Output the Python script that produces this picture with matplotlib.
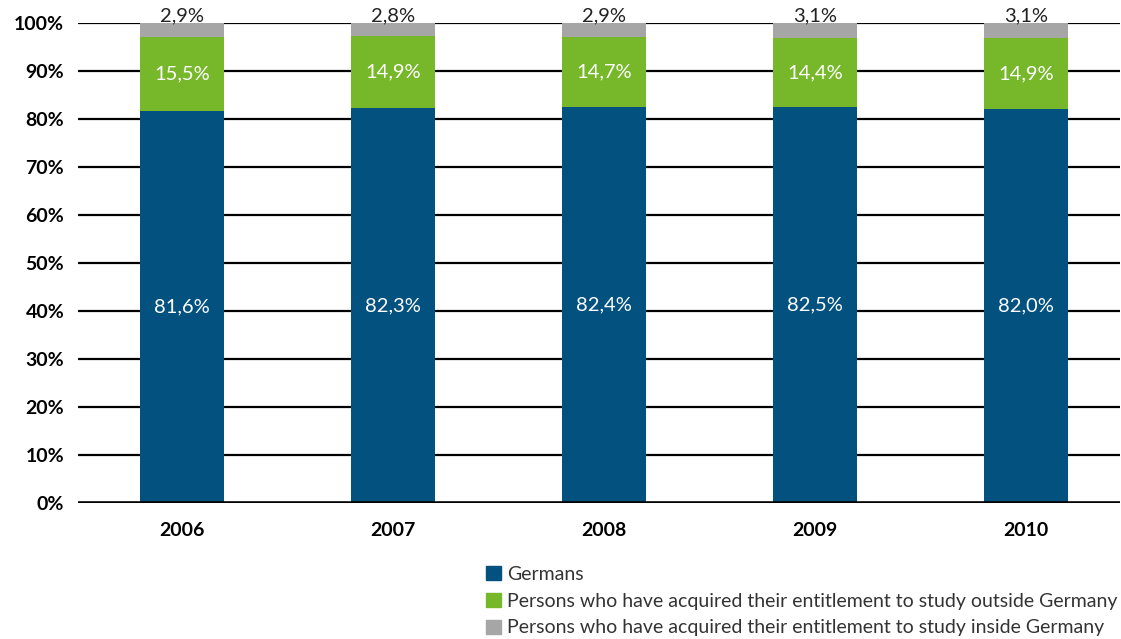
import numpy as np
import matplotlib
matplotlib.use("Agg")
import matplotlib.pyplot as plt
from matplotlib.patches import Patch

plt.rcParams["font.family"] = ["Lato", "DejaVu Sans"]

years = ["2006", "2007", "2008", "2009", "2010"]
germans = [81.6, 82.3, 82.4, 82.5, 82.0]
outside = [15.5, 14.9, 14.7, 14.4, 14.9]
inside = [2.9, 2.8, 2.9, 3.1, 3.1]
series_labels = [
    "Germans",
    "Persons who have acquired their entitlement to study outside Germany",
    "Persons who have acquired their entitlement to study inside Germany",
]
colors = ["#03517F", "#76B82A", "#A6A6A6"]

fig = plt.figure(figsize=(11.21, 6.39), dpi=100)
ax = fig.add_axes([78 / 1121, 1 - 503 / 639, 1042 / 1121, 480 / 639])

x = np.arange(len(years))
w = 0.40
g = np.array(germans)
o = np.array(outside)
i_ = np.array(inside)

# gridlines behind bars
for v in range(10, 101, 10):
    ax.axhline(v, color="black", lw=1.6, zorder=0)
ax.axhline(0, color="black", lw=2.6, zorder=3)

ax.bar(x, g, w, color=colors[0], zorder=2)
ax.bar(x, o, w, bottom=g, color=colors[1], zorder=2)
ax.bar(x, i_, w, bottom=g + o, color=colors[2], zorder=2)

fmt = lambda v: f"{v:.1f}%".replace(".", ",")
for k in range(len(years)):
    ax.text(x[k], g[k] / 2, fmt(g[k]), ha="center", va="center",
            color="white", fontsize=14.5, zorder=4)
    ax.text(x[k], g[k] + o[k] / 2, fmt(o[k]), ha="center", va="center",
            color="white", fontsize=14.5, zorder=4)
    ax.text(x[k], 101.5, fmt(i_[k]), ha="center", va="center",
            color="#222222", fontsize=14.5, zorder=4)

ax.set_xlim(-0.493, 4.445)
ax.set_ylim(0, 100)
ax.set_yticks(range(0, 101, 10))
ax.set_yticklabels([f"{v}%" for v in range(0, 101, 10)], fontweight="bold",
                   fontsize=14)
ax.set_xticks(x)
ax.set_xticklabels(years, fontweight="bold", fontsize=14)
ax.tick_params(length=0, pad=10)
ax.tick_params(axis="x", pad=14)
for s in ax.spines.values():
    s.set_visible(False)

handles = [Patch(color=c) for c in colors]
fig.legend(handles, series_labels, loc="upper left",
           bbox_to_anchor=(486 / 1121, 1 - 566 / 639), frameon=False,
           fontsize=14, handlelength=0.75, handleheight=0.75,
           handletextpad=0.35, labelspacing=0.5, labelcolor="#333333",
           borderaxespad=0, borderpad=0)

fig.savefig("out.png", dpi=100)
